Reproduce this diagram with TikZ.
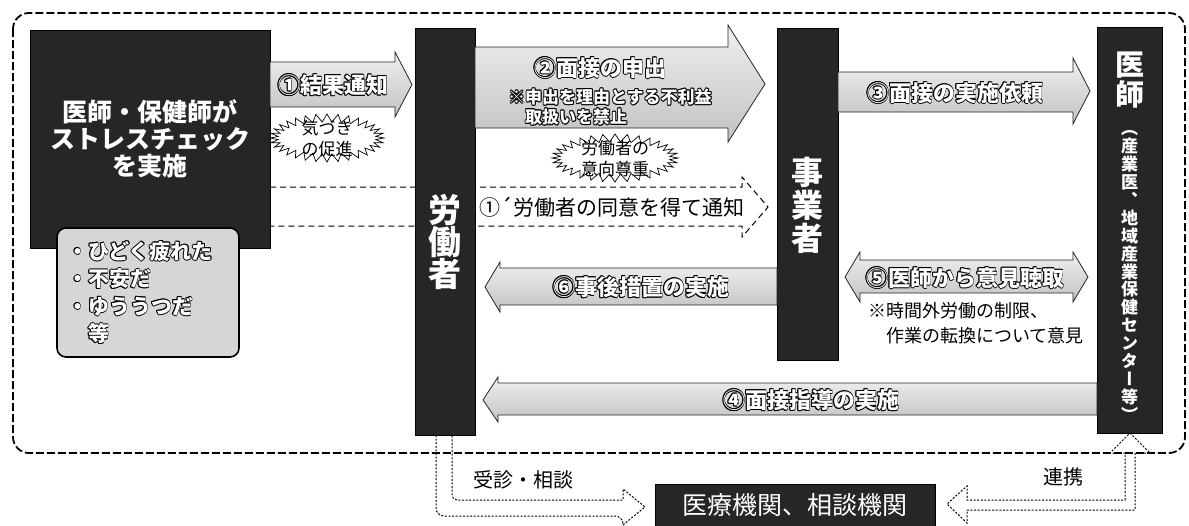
\documentclass[tikz,border=0pt]{standalone}
\usepackage{fontspec}
\setmainfont{Noto Sans CJK JP}
\newfontfamily\vjp[RawFeature=+vert]{Noto Sans CJK JP}
\newcommand\fsz[2]{\fontsize{#1pt}{#2pt}\selectfont}
\newcommand\oltcp[3]{\rlap{\kern#1\raisebox{#2}{\textcolor{black}{#3}}}}
\newcommand\olt[1]{\leavevmode\oltcp{-0.9pt}{0pt}{#1}\oltcp{0.9pt}{0pt}{#1}\oltcp{0pt}{0.9pt}{#1}\oltcp{0pt}{-0.9pt}{#1}\oltcp{-0.65pt}{0.65pt}{#1}\oltcp{0.65pt}{0.65pt}{#1}\oltcp{-0.65pt}{-0.65pt}{#1}\oltcp{0.65pt}{-0.65pt}{#1}\textcolor{white}{#1}}
% jagged burst: center x, center y, rx, ry
\newcommand\burstshape[4]{\draw[draw=black, fill=white, line width=0.7pt] plot[domain=0:63, samples=64] ({#1+(#3+(mod(\x,2)<0.5 ? 5 : -3))*cos(\x*5.625)}, {#2+(#4+(mod(\x,2)<0.5 ? 5 : -3))*sin(\x*5.625)}) -- cycle;}
\begin{document}
\begin{tikzpicture}[x=1pt,y=-1pt,
  blackbar/.style={draw=black, fill=black!85, inner sep=0pt},
  blockarrow/.style={draw=black!85, line width=0.8pt, top color=gray!12, bottom color=gray!48},
  arrowlbl/.style={inner sep=0pt, font=\bfseries\fsz{22}{24}},
  bursttext/.style={inner sep=0pt, align=center, font=\fsz{17}{21}},
  dashconn/.style={draw=black, line width=1pt, dash pattern=on 6pt off 4pt},
  dotconn/.style={draw=black, line width=1pt, dash pattern=on 2pt off 1.6pt},
  plain/.style={inner sep=0pt, text=black}]
\fill[white] (0,0) rectangle (1189,525);
\useasboundingbox (0,0) rectangle (1189,525);

% outer dashed frame
\draw[line width=1.8pt, dash pattern=on 8pt off 3pt, rounded corners=16] (13,13) rectangle (1185,453);

% dashed arrow 1'
\draw[dashconn] (270,187) -- (742,187) -- (742,177) -- (768,207) -- (742,237) -- (742,226) -- (270,226);

% bars and boxes
\node[blackbar, minimum width=240, minimum height=218, align=center, text=white, font=\bfseries\fsz{25}{27}] (check) at (150,139) {医師・保健師が\\ストレスチェック\\を実施};
\node[draw=black, line width=1.6pt, fill=gray!32, rounded corners=9, minimum width=182, minimum height=129, inner sep=0pt, text width=162, align=left, font=\bfseries\fsz{21}{27.5}] (symptoms) at (148,292.5) {\olt{・ひどく疲れた}\\\olt{・不安だ}\\\olt{・ゆううつだ}\\\hspace*{21pt}\olt{等}};
\node[blackbar, minimum width=60, minimum height=407] (worker) at (445,231.5) {};
\node[blackbar, minimum width=61, minimum height=332] (employer) at (807.5,194) {};
\node[blackbar, minimum width=65, minimum height=406] (doctor) at (1129.5,230) {};
\node[blackbar, minimum width=280, minimum height=42, text=white, font=\fsz{25}{27}] (clinic) at (795,505) {医療機関、相談機関};

\node[inner sep=0pt, text=white, align=center, font=\bfseries\fsz{33}{32}] (workerlbl) at (445,242) {労\\働\\者};
\node[inner sep=0pt, text=white, align=center, font=\bfseries\fsz{32}{33}] (employerlbl) at (807.5,205) {事\\業\\者};
\node[inner sep=0pt, text=white, align=center, font=\bfseries\fsz{29}{30}] (doctorlbl) at (1129.5,80) {医\\師};
\node[inner sep=0pt, text=white, align=center, font=\vjp\bfseries\fsz{17}{17.9}] (doctorsub) at (1129.5,276) {（\\産\\業\\医\\、\\地\\域\\産\\業\\保\\健\\セ\\ン\\タ\\ー\\等\\）};

% block arrows
\draw[blockarrow] (270,62) -- (395,62) -- (395,52) -- (412,84.5) -- (395,117) -- (395,107) -- (270,107) -- cycle;
\node[arrowlbl] (a1) at (333,85) {\olt{①結果通知}};

\draw[blockarrow] (475,47) -- (728,47) -- (728,25) -- (765,84) -- (728,142) -- (728,128) -- (475,128) -- cycle;
\node[arrowlbl] (a2) at (600,68) {\olt{②面接の申出}};
\node[inner sep=0pt, anchor=west, align=left, font=\bfseries\fsz{17}{20}] (a2note) at (508,107) {\olt{※申出を理由とする不利益}\\\hspace*{17pt}\olt{取扱いを禁止}};

\draw[blockarrow] (838,72) -- (1073,72) -- (1073,58) -- (1090,91) -- (1073,124) -- (1073,112) -- (838,112) -- cycle;
\node[arrowlbl] (a3) at (955,93) {\olt{③面接の実施依頼}};

\draw[blockarrow] (845,277) -- (860,252) -- (860,260) -- (1073,260) -- (1073,252) -- (1088,277) -- (1073,302) -- (1073,293) -- (860,293) -- (860,302) -- cycle;
\node[arrowlbl] (a5) at (965,278) {\olt{⑤医師から意見聴取}};

\draw[blockarrow] (777,268) -- (500,268) -- (500,262) -- (485,287) -- (500,312) -- (500,305) -- (777,305) -- cycle;
\node[arrowlbl] (a6) at (641,287) {\olt{⑥事後措置の実施}};

\draw[blockarrow] (1097,383) -- (498,383) -- (498,377) -- (483,400) -- (498,422) -- (498,415) -- (1097,415) -- cycle;
\node[arrowlbl] (a4) at (811,400) {\olt{④面接指導の実施}};

% starbursts
\burstshape{327}{138}{52}{19}
\node[bursttext] (aware) at (327,139) {気づき\\の促進};
\burstshape{615}{158}{58}{19}
\node[bursttext] (respect) at (615,159) {労働者の\\意向尊重};

% plain texts
\node[plain, font=\fsz{21}{23}] (a1p) at (612,207) {①´労働者の同意を得て通知};
\node[plain, anchor=west, align=left, font=\fsz{18}{25}] (note5) at (868,323) {※時間外労働の制限、\\\hspace*{18pt}作業の転換について意見};
\node[plain, font=\fsz{20}{22}] (consult) at (523,480) {受診・相談};
\node[plain, font=\fsz{20}{22}] (link) at (1063,477) {連携};

% bottom hollow dotted arrows
\coordinate (wfoot1) at (436,435);
\coordinate (wfoot2) at (452,435);
\coordinate (dtip) at (1130,433);
\draw[dotconn] (wfoot1) [rounded corners=8] -- (436,516) -- (623,516) [sharp corners] -- (623,525) -- (645,507) -- (623,489) -- (623,500) [rounded corners=5] -- (452,500) -- (wfoot2);
\draw[dotconn] (dtip) -- (1150,453) -- (1135,453) -- (1135,510) -- (967,510) -- (967,523) -- (947,504) -- (967,486) -- (967,500) -- (1125,500) -- (1125,453) -- (1110,453) -- cycle;
\end{tikzpicture}
\end{document}
